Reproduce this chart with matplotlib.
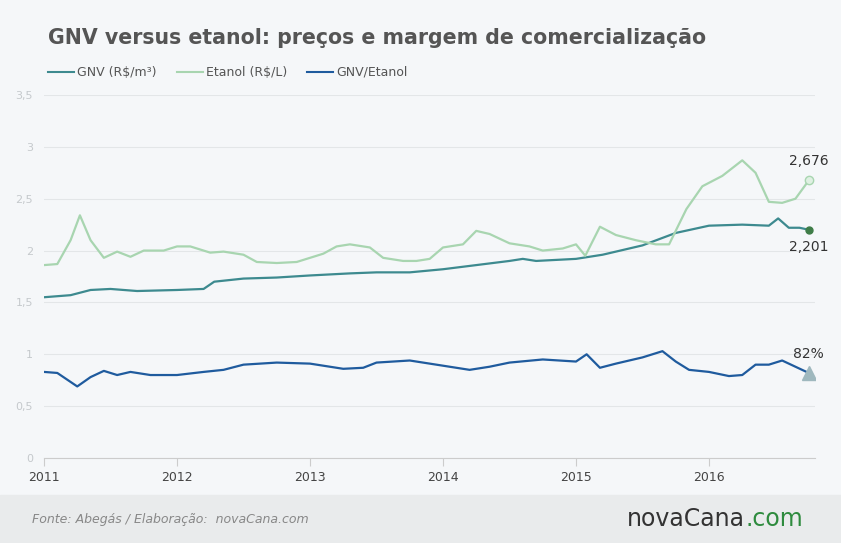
import matplotlib
matplotlib.use("Agg")
import matplotlib.pyplot as plt

et_x = [2011.0,2011.1,2011.2,2011.27,2011.35,2011.45,2011.55,2011.65,2011.75,2011.9,2012.0,2012.1,2012.25,2012.35,2012.5,2012.6,2012.75,2012.9,2013.0,2013.1,2013.2,2013.3,2013.45,2013.55,2013.7,2013.8,2013.9,2014.0,2014.15,2014.25,2014.35,2014.5,2014.65,2014.75,2014.9,2015.0,2015.07,2015.18,2015.3,2015.45,2015.6,2015.7,2015.83,2015.95,2016.1,2016.25,2016.35,2016.45,2016.55,2016.65,2016.75]
et_y = [1.86,1.87,2.1,2.34,2.1,1.93,1.99,1.94,2.0,2.0,2.04,2.04,1.98,1.99,1.96,1.89,1.88,1.89,1.93,1.97,2.04,2.06,2.03,1.93,1.9,1.9,1.92,2.03,2.06,2.19,2.16,2.07,2.04,2.0,2.02,2.06,1.95,2.23,2.15,2.1,2.06,2.06,2.4,2.62,2.72,2.87,2.75,2.47,2.46,2.5,2.676]
gnv_x = [2011.0,2011.2,2011.35,2011.5,2011.7,2012.0,2012.2,2012.28,2012.5,2012.75,2013.0,2013.3,2013.5,2013.75,2014.0,2014.25,2014.5,2014.6,2014.7,2015.0,2015.2,2015.5,2015.75,2016.0,2016.25,2016.45,2016.52,2016.6,2016.68,2016.75]
gnv_y = [1.55,1.57,1.62,1.63,1.61,1.62,1.63,1.7,1.73,1.74,1.76,1.78,1.79,1.79,1.82,1.86,1.9,1.92,1.9,1.92,1.96,2.05,2.17,2.24,2.25,2.24,2.31,2.22,2.22,2.201]
r_x = [2011.0,2011.1,2011.25,2011.35,2011.45,2011.55,2011.65,2011.8,2012.0,2012.2,2012.35,2012.5,2012.75,2013.0,2013.25,2013.4,2013.5,2013.75,2014.0,2014.2,2014.35,2014.5,2014.75,2015.0,2015.08,2015.18,2015.3,2015.5,2015.65,2015.75,2015.85,2016.0,2016.15,2016.25,2016.35,2016.45,2016.55,2016.65,2016.75]
r_y = [0.83,0.82,0.69,0.78,0.84,0.8,0.83,0.8,0.8,0.83,0.85,0.9,0.92,0.91,0.86,0.87,0.92,0.94,0.89,0.85,0.88,0.92,0.95,0.93,1.0,0.87,0.91,0.97,1.03,0.93,0.85,0.83,0.79,0.8,0.9,0.9,0.94,0.88,0.82]
years = [2011,2012,2013,2014,2015,2016]
yticks = [0,0.5,1,1.5,2,2.5,3,3.5]
ylabels = ["0","0,5","1","1,5","2","2,5","3","3,5"]

c_gnv, c_et, c_r = "#3d8a8f", "#a8d5b0", "#1f5b9e"
fig = plt.figure(figsize=(8.41,5.43), dpi=100, facecolor="#f5f7f9")
fig.patches.append(plt.Rectangle((0,0),1,48/543,transform=fig.transFigure,color="#e9ebec",zorder=0))
ax = fig.add_axes([44/841, 1-458/543, (815-44)/841, (458-95)/543])
ax.set_facecolor("#f5f7f9")
ax.plot(gnv_x, gnv_y, color=c_gnv, lw=1.6)
ax.plot(et_x, et_y, color=c_et, lw=1.6)
ax.plot(r_x, r_y, color=c_r, lw=1.6)
ax.plot(et_x[-1], et_y[-1], 'o', mfc="#dff0e2", mec=c_et, ms=6)
ax.plot(gnv_x[-1], gnv_y[-1], 'o', color="#3f7d48", ms=5)
ax.plot(r_x[-1], r_y[-1], '^', color="#9fb8be", ms=10)
ax.text(et_x[-1], et_y[-1]+0.12, "2,676", ha="center", va="bottom", fontsize=10, color="#333")
ax.text(gnv_x[-1], gnv_y[-1]-0.1, "2,201", ha="center", va="top", fontsize=10, color="#333")
ax.text(r_x[-1], r_y[-1]+0.12, "82%", ha="center", va="bottom", fontsize=10, color="#333")
ax.set_xlim(2011, 2011+(815-44)/133)
ax.set_ylim(0, 3.5)
ax.set_yticks(yticks, ylabels)
ax.set_xticks(years, [str(y) for y in years])
ax.grid(axis="y", color="#e3e6e8", lw=0.8)
for s in ax.spines.values(): s.set_visible(False)
ax.spines["bottom"].set_visible(True); ax.spines["bottom"].set_color("#cccccc")
ax.tick_params(axis="y", length=0, labelsize=8, colors="#c5c9cc", pad=8)
ax.tick_params(axis="x", length=6, labelsize=9, colors="#444", color="#cccccc")
for lbl in ax.get_yticklabels(): lbl.set_ha("right")
fig.text(48/841, 1-38/543, "GNV versus etanol: preços e margem de comercialização", fontsize=14.8, fontweight="bold", color="#555", va="center")
lx = [48, 177, 307]
names = ["GNV (R$/m³)", "Etanol (R$/L)", "GNV/Etanol"]
for x0, n, c in zip(lx, names, [c_gnv, c_et, c_r]):
    fig.lines.append(plt.Line2D([x0/841,(x0+26)/841],[1-72/543]*2, color=c, lw=1.5, transform=fig.transFigure))
    fig.text((x0+29)/841, 1-72/543, n, fontsize=9, color="#555", va="center")
fig.text(32/841, 1-519/543, "Fonte: Abegás / Elaboração:  novaCana.com", fontsize=9, style="italic", color="#888", va="center")
fig.text(627/841, 1-519/543, "novaCana", fontsize=17, color="#333", va="center")
fig.text(745/841, 1-519/543, ".com", fontsize=17, color="#2e8b3e", va="center")
fig.savefig("out.png", dpi=100, facecolor=fig.get_facecolor())
